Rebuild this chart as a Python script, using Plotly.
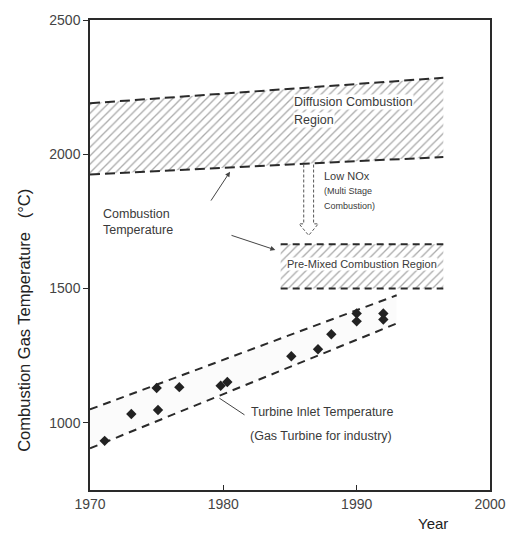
import plotly.graph_objects as go

# ---------------- data ----------------
diff_years = [1970, 1996.5]
diff_lower = [1925, 1990]
diff_upper = [2190, 2285]

premix_years = [1984.3, 1996.5]
premix_lower = [1500, 1500]
premix_upper = [1665, 1665]

tit_years = [1970, 1993]
tit_lower = [905, 1370]
tit_upper = [1050, 1475]

pt_years = [1971.1, 1973.1, 1975.1, 1975.0, 1976.7, 1979.8, 1980.3,
            1985.1, 1987.1, 1988.1, 1990.0, 1990.0, 1992.0, 1992.0]
pt_temps = [933, 1033, 1048, 1130, 1133, 1138, 1152,
            1248, 1274, 1330, 1407, 1378, 1407, 1385]

x_ticks = [1970, 1980, 1990, 2000]
y_ticks = [1000, 1500, 2000, 2500]

# Low NOx arrow (year, top, head start, tip, half widths)
arrow_year = 1986.4
arrow_top = 1962
arrow_head = 1741
arrow_tip = 1698
arrow_shaft_hw = 0.37
arrow_head_hw = 0.72

INK = "#2a2a2a"
TXT = "#3a3a3a"
FONT = "Liberation Sans, Arial, sans-serif"

fig = go.Figure()

HATCH = dict(shape="/", fgcolor="#555", bgcolor="white", size=6, solidity=0.22)

# hatched diffusion band
fig.add_trace(go.Scatter(
    x=diff_years + diff_years[::-1], y=diff_lower + diff_upper[::-1],
    fill="toself", mode="none", fillcolor="white", fillpattern=HATCH,
    hoverinfo="skip", showlegend=False))
for ys in (diff_lower, diff_upper):
    fig.add_trace(go.Scatter(x=diff_years, y=ys, mode="lines",
                             line=dict(color=INK, width=2, dash="10px,5px"),
                             hoverinfo="skip", showlegend=False))

# hatched pre-mixed region
fig.add_trace(go.Scatter(
    x=premix_years + premix_years[::-1], y=premix_lower + premix_upper[::-1],
    fill="toself", mode="none", fillcolor="white", fillpattern=HATCH,
    hoverinfo="skip", showlegend=False))
for ys in (premix_lower, premix_upper):
    fig.add_trace(go.Scatter(x=premix_years, y=ys, mode="lines",
                             line=dict(color=INK, width=2, dash="7px,5px"),
                             hoverinfo="skip", showlegend=False))

# turbine inlet temperature band
fig.add_trace(go.Scatter(x=tit_years, y=tit_lower, mode="lines",
                         line=dict(color=INK, width=2, dash="8px,6px"),
                         hoverinfo="skip", showlegend=False))
fig.add_trace(go.Scatter(x=tit_years, y=tit_upper, mode="lines",
                         line=dict(color=INK, width=2, dash="8px,6px"),
                         fill="tonexty", fillcolor="rgba(0,0,0,0.015)",
                         hoverinfo="skip", showlegend=False))

# data points
fig.add_trace(go.Scatter(x=pt_years, y=pt_temps, mode="markers",
                         marker=dict(symbol="diamond", size=8, color="#222"),
                         showlegend=False))

# hollow Low NOx arrow
ax_ = [arrow_year - arrow_shaft_hw, arrow_year - arrow_shaft_hw,
       arrow_year - arrow_head_hw, arrow_year, arrow_year + arrow_head_hw,
       arrow_year + arrow_shaft_hw, arrow_year + arrow_shaft_hw]
ay_ = [arrow_top, arrow_head, arrow_head, arrow_tip, arrow_head, arrow_head, arrow_top]
fig.add_trace(go.Scatter(x=ax_, y=ay_, mode="lines",
                         line=dict(color="#555", width=1, dash="3px,2px"),
                         hoverinfo="skip", showlegend=False))

def txt(x, y, s, size=12, bg=None):
    fig.add_annotation(x=x, y=y, text=s, showarrow=False, xanchor="left",
                       yanchor="middle", font=dict(family=FONT, size=size, color=TXT),
                       bgcolor=bg, borderpad=0)

txt(1985.2, 2193, "Diffusion Combustion", 12.5, "white")
txt(1985.2, 2126, "Region", 12.5, "white")
txt(1987.5, 1921, "Low NOx", 11)
txt(1987.5, 1863, "(Multi Stage", 9)
txt(1987.5, 1808, "Combustion)", 9)
txt(1984.7, 1590, "Pre-Mixed Combustion Region", 11, "white")
txt(1970.9, 1778, "Combustion", 12.5)
txt(1970.9, 1719, "Temperature", 12.5)
txt(1982.0, 1040, "Turbine Inlet Temperature", 12.5)
txt(1981.9, 950, "(Gas Turbine for industry)", 12.5)

# leader lines
fig.add_annotation(x=1980.5, y=1935, ax=1979.0, ay=1822, axref="x", ayref="y",
                   xref="x", yref="y", text="", showarrow=True, arrowhead=2,
                   arrowsize=1, arrowwidth=1, arrowcolor="#444")
fig.add_annotation(x=1983.9, y=1644, ax=1980.5, ay=1700, axref="x", ayref="y",
                   xref="x", yref="y", text="", showarrow=True, arrowhead=2,
                   arrowsize=1, arrowwidth=1, arrowcolor="#444")
fig.add_annotation(x=1979.7, y=1092, ax=1981.7, ay=1026, axref="x", ayref="y",
                   xref="x", yref="y", text="", showarrow=True, arrowhead=0,
                   arrowwidth=1, arrowcolor="#444")

# axis titles
fig.add_annotation(xref="paper", yref="paper", x=0.858, y=-0.072, text="Year",
                   showarrow=False, xanchor="center", yanchor="middle",
                   font=dict(family=FONT, size=15, color="#222"))
fig.add_annotation(xref="paper", yref="paper", x=-0.165, y=0.36,
                   text="Combustion Gas Temperature   (°C)", textangle=-90,
                   showarrow=False, xanchor="center", yanchor="middle",
                   font=dict(family=FONT, size=16.5, color="#222"))

fig.update_xaxes(range=[1970, 2000], tickvals=x_ticks, showgrid=False, zeroline=False,
                 showline=True, linecolor=INK, linewidth=1.5, mirror=True,
                 ticks="inside", ticklen=5, tickcolor=INK,
                 tickfont=dict(family=FONT, size=14, color="#444"))
fig.update_yaxes(range=[750, 2500], tickvals=y_ticks, showgrid=False, zeroline=False,
                 showline=True, linecolor=INK, linewidth=1.5, mirror=True,
                 ticks="outside", ticklen=5, tickcolor=INK,
                 tickfont=dict(family=FONT, size=14, color="#444"))

fig.update_layout(width=518, height=536, margin=dict(l=90, r=19, t=17, b=46),
                  plot_bgcolor="white", paper_bgcolor="white", showlegend=False)

fig.write_html("out.html")
